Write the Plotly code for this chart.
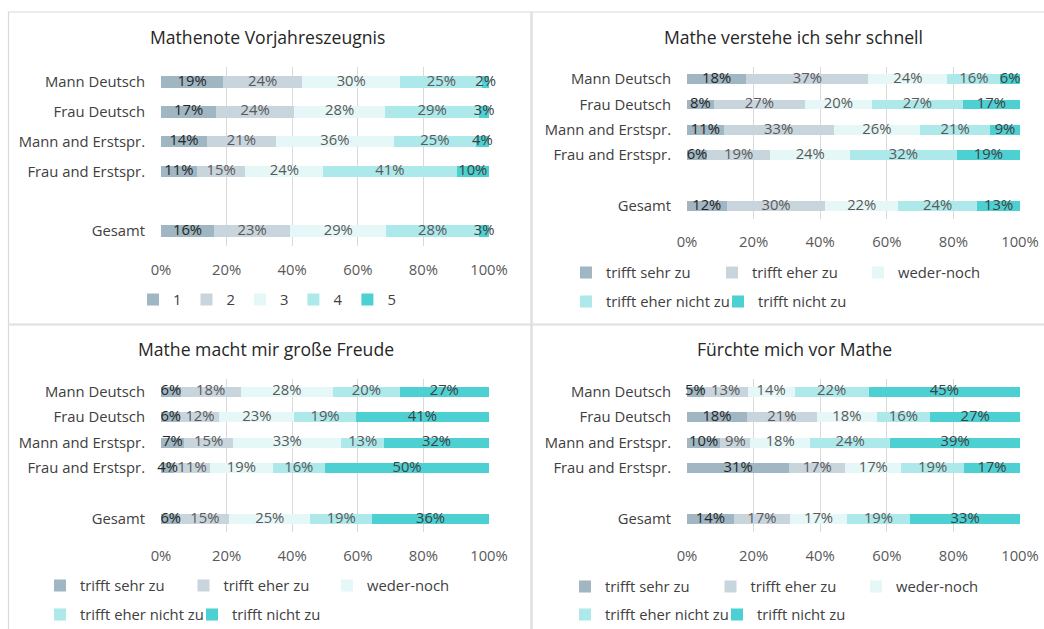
import plotly.graph_objects as go

W, H = 1044, 629

# ---------------- data ----------------
categories = ["Mann Deutsch", "Frau Deutsch", "Mann and Erstspr.", "Frau and Erstspr.", "Gesamt"]
axis_categories = ["Mann Deutsch", "Frau Deutsch", "Mann and Erstspr.", "Frau and Erstspr.", " ", "Gesamt"]

grade_labels = ["1", "2", "3", "4", "5"]
agree_labels = ["trifft sehr zu", "trifft eher zu", "weder-noch", "trifft eher nicht zu", "trifft nicht zu"]

titles = ["Mathenote Vorjahreszeugnis", "Mathe verstehe ich sehr schnell",
          "Mathe macht mir große Freude", "Fürchte mich vor Mathe"]

# Mathenote Vorjahreszeugnis (per grade, over categories)
note_1 = [19, 17, 14, 11, 16]
note_2 = [24, 24, 21, 15, 23]
note_3 = [30, 28, 36, 24, 29]
note_4 = [25, 29, 25, 41, 28]
note_5 = [2, 3, 4, 10, 3]

# Mathe verstehe ich sehr schnell
verstehe_sehr = [18, 8, 11, 6, 12]
verstehe_eher = [37, 27, 33, 19, 30]
verstehe_weder = [24, 20, 26, 24, 22]
verstehe_eher_nicht = [16, 27, 21, 32, 24]
verstehe_nicht = [6, 17, 9, 19, 13]

# Mathe macht mir große Freude
freude_sehr = [6, 6, 7, 4, 6]
freude_eher = [18, 12, 15, 11, 15]
freude_weder = [28, 23, 33, 19, 25]
freude_eher_nicht = [20, 19, 13, 16, 19]
freude_nicht = [27, 41, 32, 50, 36]

# Fürchte mich vor Mathe
angst_sehr = [5, 18, 10, 31, 14]
angst_eher = [13, 21, 9, 17, 17]
angst_weder = [14, 18, 18, 17, 17]
angst_eher_nicht = [22, 16, 24, 19, 19]
angst_nicht = [45, 27, 39, 17, 33]

x_ticks = [0, 20, 40, 60, 80, 100]
x_tick_labels = ["0%", "20%", "40%", "60%", "80%", "100%"]

# ---------------- styles ----------------
colors = ["#a0b6c2", "#c9d5dd", "#e6f7f7", "#ade8ea", "#4dd0d2"]
label_colors = ["#262626", "#595959", "#595959", "#595959", "#404040"]
FONT = "Open Sans"
GRID = "#d9d9d9"
FS = 14.8


def px_x(p):
    return p / W


def px_y(p):
    return 1 - p / H


def label_centres(series):
    """Centre of each segment of a 100%-stacked bar (same normalisation as barnorm)."""
    totals = [sum(col) for col in zip(*series)]
    cum = [0] * len(totals)
    out = []
    for vals in series:
        out.append([(c + v / 2) / t * 100 for c, v, t in zip(cum, vals, totals)])
        cum = [c + v for c, v in zip(cum, vals)]
    return out


fig = go.Figure()

panels = [
    dict(series=[note_1, note_2, note_3, note_4, note_5], names=grade_labels,
         xa="x", ya="y", x=(161, 489), y=(67, 246),
         legends=["legend"] * 5),
    dict(series=[verstehe_sehr, verstehe_eher, verstehe_weder, verstehe_eher_nicht, verstehe_nicht],
         names=agree_labels, xa="x2", ya="y2", x=(687, 1020), y=(66.5, 218.5),
         legends=["legend2"] * 3 + ["legend3"] * 2),
    dict(series=[freude_sehr, freude_eher, freude_weder, freude_eher_nicht, freude_nicht],
         names=agree_labels, xa="x3", ya="y3", x=(161, 489), y=(379, 532),
         legends=["legend4"] * 3 + ["legend5"] * 2),
    dict(series=[angst_sehr, angst_eher, angst_weder, angst_eher_nicht, angst_nicht],
         names=agree_labels, xa="x4", ya="y4", x=(687, 1020), y=(379, 532),
         legends=["legend6"] * 3 + ["legend7"] * 2),
]

layout_axes = {}
for k, p in enumerate(panels):
    for i, (vals, name) in enumerate(zip(p["series"], p["names"])):
        fig.add_trace(go.Bar(
            y=categories, x=vals, orientation="h", name=name,
            marker=dict(color=colors[i], line=dict(width=0)),
            xaxis=p["xa"], yaxis=p["ya"],
            legend=p["legends"][i], hoverinfo="skip",
        ))
    # data labels, centred on each stacked segment
    centres = label_centres(p["series"])
    for i, vals in enumerate(p["series"]):
        fig.add_trace(go.Scatter(
            x=centres[i], y=categories, mode="text",
            text=[f"{v}%" for v in vals], textposition="middle center",
            textfont=dict(family=FONT, size=FS, color=label_colors[i]),
            cliponaxis=False, showlegend=False, hoverinfo="skip",
            xaxis=p["xa"], yaxis=p["ya"],
        ))
    sx = "" if k == 0 else str(k + 1)
    layout_axes["xaxis" + sx] = dict(
        domain=[px_x(p["x"][0]), px_x(p["x"][1])], range=[0, 100],
        anchor="y" + sx, tickmode="array", tickvals=x_ticks, ticktext=x_tick_labels,
        showgrid=True, gridcolor=GRID, gridwidth=1, zeroline=False,
        showline=False, ticks="outside", ticklen=10, tickcolor="rgba(0,0,0,0)",
        tickfont=dict(family=FONT, size=FS, color="#595959"), fixedrange=True,
        automargin=False,
    )
    layout_axes["yaxis" + sx] = dict(
        domain=[px_y(p["y"][1]), px_y(p["y"][0])], anchor="x" + sx,
        categoryorder="array", categoryarray=axis_categories, autorange="reversed",
        showgrid=False, zeroline=False, showline=False,
        ticks="outside", ticklen=12, tickcolor="rgba(0,0,0,0)",
        tickfont=dict(family=FONT, size=FS, color="#404040"), fixedrange=True,
        automargin=False,
    )

fig.update_layout(**layout_axes)

legend_font = dict(family=FONT, size=FS, color="#404040")


def leg(x, y, xanchor="left", entrywidth=None):
    d = dict(orientation="h", x=px_x(x), y=px_y(y), xanchor=xanchor, yanchor="middle",
             font=legend_font, bgcolor="rgba(0,0,0,0)", itemwidth=30,
             traceorder="normal", itemclick=False, itemdoubleclick=False)
    if entrywidth is not None:
        d["entrywidth"] = entrywidth
        d["entrywidthmode"] = "pixels"
    return d


fig.update_layout(
    legend=leg(267, 300, xanchor="center"),
    legend2=leg(566, 273, entrywidth=101),
    legend3=leg(566, 302, entrywidth=107),
    legend4=leg(40, 586, entrywidth=98.5),
    legend5=leg(40, 615, entrywidth=107),
    legend6=leg(565, 587, entrywidth=100.5),
    legend7=leg(565, 615, entrywidth=107),
)

# titles
title_pos = [(267, 37), (793, 37), (266, 349), (794, 349)]
annotations = []
for t, (tx, ty) in zip(titles, title_pos):
    annotations.append(dict(text=t, x=px_x(tx), y=px_y(ty), xref="paper", yref="paper",
                            xanchor="center", yanchor="middle", showarrow=False,
                            font=dict(family=FONT, size=17.6, color="#262626")))

# panel borders
shapes = []
for (x0, y0, x1, y1) in [(8.5, 12, 531, 324), (532, 12, 1060, 324),
                         (8.5, 325, 531, 660), (532, 325, 1060, 660)]:
    shapes.append(dict(type="rect", xref="paper", yref="paper",
                       x0=px_x(x0), x1=px_x(x1), y0=px_y(y1), y1=px_y(y0),
                       line=dict(color=GRID, width=1.2), fillcolor="rgba(0,0,0,0)", layer="below"))

fig.update_layout(
    width=W, height=H, margin=dict(l=0, r=0, t=0, b=0, autoexpand=False),
    paper_bgcolor="white", plot_bgcolor="white",
    barmode="stack", barnorm="percent", bargap=0.61,
    annotations=annotations, shapes=shapes,
    font=dict(family=FONT, size=FS, color="#404040"),
    showlegend=True,
)

# remove the default 8px page margin so the 1044x629 figure fills the window exactly
page_fix = ("document.body.style.margin='0';"
            "document.body.style.overflow='hidden';"
            "document.documentElement.style.overflow='hidden';")

fig.write_html("out.html", post_script=page_fix, config={"displayModeBar": False})
